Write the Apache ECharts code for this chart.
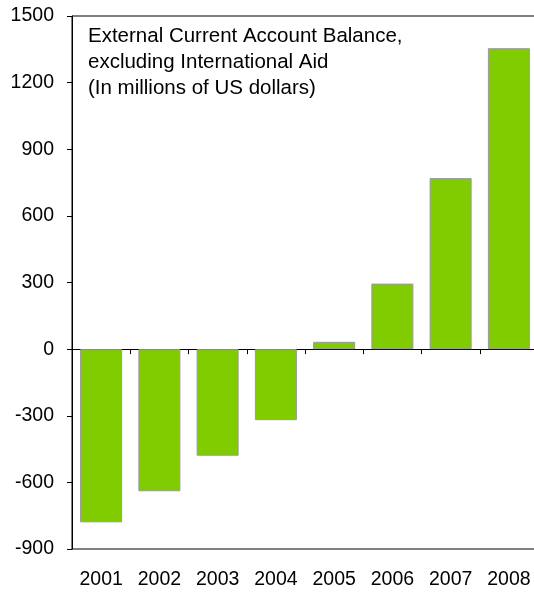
<!DOCTYPE html>
<html>
<head>
<meta charset="utf-8">
<script src="https://cdn.jsdelivr.net/npm/echarts@6/dist/echarts.min.js"></script>
<style>
  html, body { margin: 0; padding: 0; background: #fff; overflow: hidden; }
  /* a bit wider than the window so the grid's right edge falls off-screen */
  #chart { width: 540px; height: 592px; }
</style>
</head>
<body>
<div id="chart"></div>
<script>
const years = ['2001', '2002', '2003', '2004', '2005', '2006', '2007', '2008']
const balance = [-780, -640, -480, -320, 33, 295, 770, 1355]
const yMin = -900
const yMax = 1500
const yStep = 300
const titleLines = [
  'External Current Account Balance,',
  'excluding International Aid',
  '(In millions of US dollars)'
]

const font = '"Liberation Sans", Arial, sans-serif'

const chart = echarts.init(document.getElementById('chart'), null, { renderer: 'canvas' })

chart.setOption({
  animation: false,
  title: {
    text: titleLines.join('\n'),
    left: 88,
    top: 23,
    padding: 0,
    textStyle: {
      fontFamily: font,
      fontSize: 20.5,
      fontWeight: 'normal',
      color: '#000',
      lineHeight: 26
    }
  },
  grid: {
    left: 72,
    top: 16,
    width: 466,
    height: 533,
    show: true,
    borderColor: '#000',
    borderWidth: 1,
    backgroundColor: 'transparent'
  },
  xAxis: [
    {
      // axis on the zero line, ticks only
      type: 'category',
      data: years,
      axisLine: { onZero: true, lineStyle: { color: '#000', width: 1 } },
      axisTick: { show: true, length: 5, lineStyle: { color: '#000' } },
      axisLabel: { show: false }
    },
    {
      // labels along the bottom
      type: 'category',
      data: years,
      position: 'bottom',
      axisLine: { show: false, onZero: false },
      axisTick: { show: false },
      axisLabel: { fontFamily: font, fontSize: 19.5, color: '#000', margin: 21 }
    }
  ],
  yAxis: {
    type: 'value',
    min: yMin,
    max: yMax,
    interval: yStep,
    axisLine: { show: true, lineStyle: { color: '#000', width: 1 } },
    axisTick: { show: true, length: 5, lineStyle: { color: '#000' } },
    splitLine: { show: false },
    axisLabel: {
      fontFamily: font,
      fontSize: 19.5,
      color: '#000',
      margin: 18,
      formatter: v => String(v)
    }
  },
  series: [
    {
      type: 'bar',
      xAxisIndex: 0,
      data: balance,
      barWidth: 42,
      itemStyle: {
        color: '#80cc00',
        borderColor: '#999',
        borderWidth: 1
      }
    }
  ]
})
</script>
</body>
</html>
